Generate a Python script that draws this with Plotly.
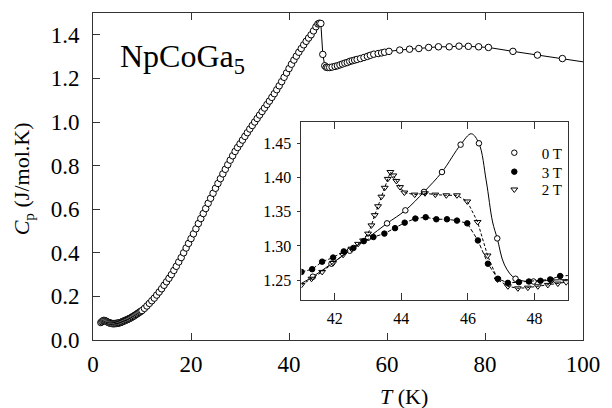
import plotly.graph_objects as go

# ---------------- main curve (zero field) ----------------
T_main = [1.6,1.8,2.0,2.2,2.4,2.6,2.8,3.0,3.2,3.4,3.6,3.8,4.0,4.2,4.4,4.6,4.8,5.0,5.2,5.4,5.6,5.8,
          6.0,6.2,6.4,6.6,6.8,7.0,7.2,7.4,7.6,7.8,8.0,8.2,8.4,8.6,8.8,9.0,9.2,9.4,9.6,9.8,
          10.0,10.5,11.0,11.5,12.0,12.5,13.0,13.5,14.0,14.5,15.0,15.5,16.0,16.5,17.0,17.5,
          18.0,18.5,19.0,19.5,20.0,20.5,21.0,21.5,22.0,22.5,23.0,23.5,24.0,24.5,25.0,25.5,
          26.0,26.5,27.0,27.5,28.0,28.5,29.0,29.5,30.0,30.5,31.0,31.5,32.0,32.5,33.0,33.5,
          34.0,34.5,35.0,35.5,36.0,36.5,37.0,37.5,38.0,38.5,39.0,39.5,40.0,40.5,41.0,41.5,
          42.0,42.5,43.0,43.5,44.0,44.5,45.0,45.5,45.9,46.2,46.5,
          46.9,47.3,47.6,47.9,48.3,48.8,49.4,49.9,50.4,50.9,51.4,51.9,52.4,52.9,53.4,53.9,
          54.6,55.3,56.0,56.6,57.3,58.2,58.9,59.5,60.4,62.6,64.6,66.5,68.5,70.5,72.7,74.7,
          76.6,78.7,80.7,85.7,90.7,95.8,100.9]
Cp_main = [0.080,0.084,0.088,0.090,0.089,0.087,0.085,0.082,0.080,0.078,0.077,0.076,0.075,0.075,0.075,0.076,0.076,0.077,0.078,0.079,0.080,0.082,
           0.084,0.086,0.088,0.090,0.092,0.094,0.096,0.098,0.100,0.103,0.106,0.108,0.111,0.114,0.117,0.120,0.123,0.126,0.129,0.132,
           0.135,0.145,0.156,0.168,0.180,0.192,0.206,0.220,0.235,0.251,0.267,0.283,0.300,0.319,0.338,0.358,
           0.378,0.400,0.422,0.443,0.465,0.487,0.510,0.534,0.557,0.580,0.603,0.627,0.650,0.673,0.696,0.718,
           0.740,0.762,0.783,0.804,0.825,0.845,0.865,0.883,0.900,0.917,0.934,0.951,0.968,0.984,1.000,1.016,
           1.032,1.048,1.064,1.080,1.096,1.113,1.130,1.148,1.166,1.185,1.205,1.225,1.245,1.265,1.284,1.302,
           1.320,1.337,1.354,1.370,1.385,1.400,1.418,1.437,1.450,1.453,1.452,
           1.310,1.258,1.251,1.250,1.250,1.252,1.255,1.258,1.262,1.266,1.270,1.273,1.278,1.281,1.284,1.287,
           1.291,1.296,1.301,1.306,1.311,1.314,1.317,1.320,1.324,1.330,1.334,1.337,1.342,1.345,1.345,1.348,
           1.347,1.345,1.342,1.324,1.307,1.291,1.273]

# ---------------- inset: 0 T (measured points) ----------------
T_0T = [41.34,41.9,42.45,43.0,43.57,44.12,44.68,45.22,45.78,46.33,46.88,47.43,47.97,48.5]
Cp_0T = [1.255,1.274,1.293,1.312,1.333,1.352,1.379,1.408,1.448,1.450,1.311,1.252,1.248,1.250]
# ---------------- inset: 0 T (guide line as drawn) ----------------
T_0T_line = [40.8,41.34,41.9,42.45,43.0,43.57,44.12,44.68,45.22,45.78,46.1,46.33,46.55,46.74,46.88,
             47.1,47.43,47.97,48.5,49.1]
Cp_0T_line = [1.240,1.255,1.274,1.293,1.312,1.333,1.352,1.379,1.408,1.448,1.464,1.450,1.395,1.335,1.311,
              1.272,1.252,1.248,1.250,1.251]

# ---------------- inset: 3 T ----------------
T_3T = [41.0,41.32,41.62,41.95,42.27,42.56,42.87,43.16,43.49,43.81,44.1,44.42,44.73,45.05,45.37,45.67,
        45.98,46.3,46.6,46.9,47.2,47.53,47.83,48.18,48.47,48.77,49.1]
Cp_3T = [1.262,1.266,1.277,1.283,1.292,1.297,1.307,1.313,1.318,1.326,1.334,1.340,1.342,1.339,1.339,1.337,
         1.333,1.308,1.274,1.252,1.246,1.247,1.248,1.249,1.251,1.256,1.257]

# ---------------- inset: 2 T ----------------
T_2T = [41.0,41.3,41.62,41.95,42.25,42.5,42.7,42.85,43.0,43.1,43.2,43.3,43.4,43.5,43.59,43.67,43.76,
        43.85,43.96,44.09,44.4,44.71,45.02,45.35,45.67,45.98,46.29,46.59,46.89,47.2,47.5,47.8,48.1,
        48.4,48.7,48.95]
Cp_2T = [1.243,1.252,1.262,1.275,1.287,1.296,1.303,1.308,1.318,1.330,1.345,1.358,1.372,1.385,1.398,1.408,1.403,
         1.395,1.386,1.378,1.375,1.377,1.375,1.374,1.374,1.365,1.335,1.286,1.251,1.241,1.238,1.239,1.241,
         1.243,1.245,1.247]

legend_labels = ["0 T", "3 T", "2 T"]

FONT = "Liberation Serif, Times New Roman, serif"
AX = "#333333"

fig = go.Figure()

fig.add_trace(go.Scatter(x=T_main, y=Cp_main, mode="lines+markers",
                         line=dict(color="black", width=1),
                         marker=dict(symbol="circle", size=6.5, color="white",
                                     line=dict(color="black", width=1)),
                         showlegend=False, xaxis="x", yaxis="y"))

fig.add_trace(go.Scatter(x=T_0T_line, y=Cp_0T_line, mode="lines",
                         line=dict(color="black", width=1, shape="spline", smoothing=1.0),
                         showlegend=False, xaxis="x2", yaxis="y2"))
fig.add_trace(go.Scatter(x=T_0T, y=Cp_0T, mode="markers",
                         marker=dict(symbol="circle", size=5.5, color="white",
                                     line=dict(color="black", width=1)),
                         showlegend=False, xaxis="x2", yaxis="y2"))
fig.add_trace(go.Scatter(x=T_3T, y=Cp_3T, mode="lines+markers",
                         line=dict(color="black", width=1, dash="4px,2px"),
                         marker=dict(symbol="circle", size=5.5, color="black",
                                     line=dict(color="black", width=1)),
                         showlegend=False, xaxis="x2", yaxis="y2"))
fig.add_trace(go.Scatter(x=T_2T, y=Cp_2T, mode="lines+markers",
                         line=dict(color="black", width=1, dash="3px,2px"),
                         marker=dict(symbol="triangle-down-open", size=6,
                                     color="black", line=dict(width=1)),
                         showlegend=False, xaxis="x2", yaxis="y2"))

# legend entries (markers only), one legend box per row
leg_styles = [dict(symbol="circle", size=5.5, color="white", line=dict(color="black", width=1)),
              dict(symbol="circle", size=5.5, color="black", line=dict(color="black", width=1)),
              dict(symbol="triangle-down-open", size=6, color="black", line=dict(width=1))]
leg_ids = ["legend", "legend2", "legend3"]
for lab, st, lid in zip(legend_labels, leg_styles, leg_ids):
    fig.add_trace(go.Scatter(x=[None], y=[None], mode="markers", marker=st,
                             name="\u00a0\u00a0" + lab, showlegend=True, legend=lid,
                             xaxis="x2", yaxis="y2"))

leg_common = dict(x=0.819, xanchor="left", yanchor="middle", bgcolor="rgba(0,0,0,0)",
                  borderwidth=0, font=dict(size=15, family=FONT), itemwidth=30)

fig.update_layout(
    width=612, height=408,
    margin=dict(l=93, r=27, t=12, b=68),
    paper_bgcolor="white", plot_bgcolor="white",
    font=dict(family=FONT, color="black", size=23),
    xaxis=dict(domain=[0, 1], range=[0, 100], dtick=20, tick0=0,
               showline=True, linecolor=AX, linewidth=1, mirror="ticks",
               ticks="inside", ticklen=7, tickcolor=AX, showgrid=False, zeroline=False,
               tickfont=dict(size=23, family=FONT), ticklabelstandoff=3),
    yaxis=dict(domain=[0, 1], range=[0, 1.5], dtick=0.2, tick0=0, tickformat=".1f",
               showline=True, linecolor=AX, linewidth=1, mirror=True,
               ticks="inside", ticklen=7, tickcolor=AX, showgrid=False, zeroline=False,
               tickfont=dict(size=23, family=FONT), ticklabelstandoff=8),
    xaxis2=dict(domain=[0.4255, 0.969], range=[41, 49], dtick=2, tick0=42, anchor="y2",
                showline=True, linecolor=AX, linewidth=1, mirror="ticks",
                ticks="inside", ticklen=7, tickcolor=AX, showgrid=False, zeroline=False,
                tickfont=dict(size=16, family=FONT), ticklabelstandoff=4),
    yaxis2=dict(domain=[0.122, 0.6655], range=[1.2208, 1.4806], dtick=0.05, tick0=1.25,
                tickformat=".2f", anchor="x2",
                showline=True, linecolor=AX, linewidth=1, mirror=True,
                ticks="outside", ticklen=3, tickcolor=AX, showgrid=False, zeroline=False,
                tickfont=dict(size=16, family=FONT), ticklabelstandoff=3),
    legend=dict(y=0.572, **leg_common),
    legend2=dict(y=0.514, **leg_common),
    legend3=dict(y=0.4595, **leg_common),
    annotations=[
        dict(text="NpCoGa<sub>5</sub>", xref="paper", yref="paper", x=0.051, y=0.862,
             xanchor="left", yanchor="middle", showarrow=False,
             font=dict(size=32, family=FONT)),
        dict(text="<i>C</i><sub>p</sub> (J/mol.K)", xref="paper", yref="paper",
             x=-0.141, y=0.494, xanchor="center", yanchor="middle", textangle=-90,
             showarrow=False, font=dict(size=22, family=FONT)),
        dict(text="<i>T</i> (K)", xref="paper", yref="paper",
             x=0.634, y=-0.174, xanchor="center", yanchor="middle",
             showarrow=False, font=dict(size=22, family=FONT)),
    ],
)

fig.write_html("out.html", config={"displayModeBar": False},
               post_script="document.body.style.margin='0';")
